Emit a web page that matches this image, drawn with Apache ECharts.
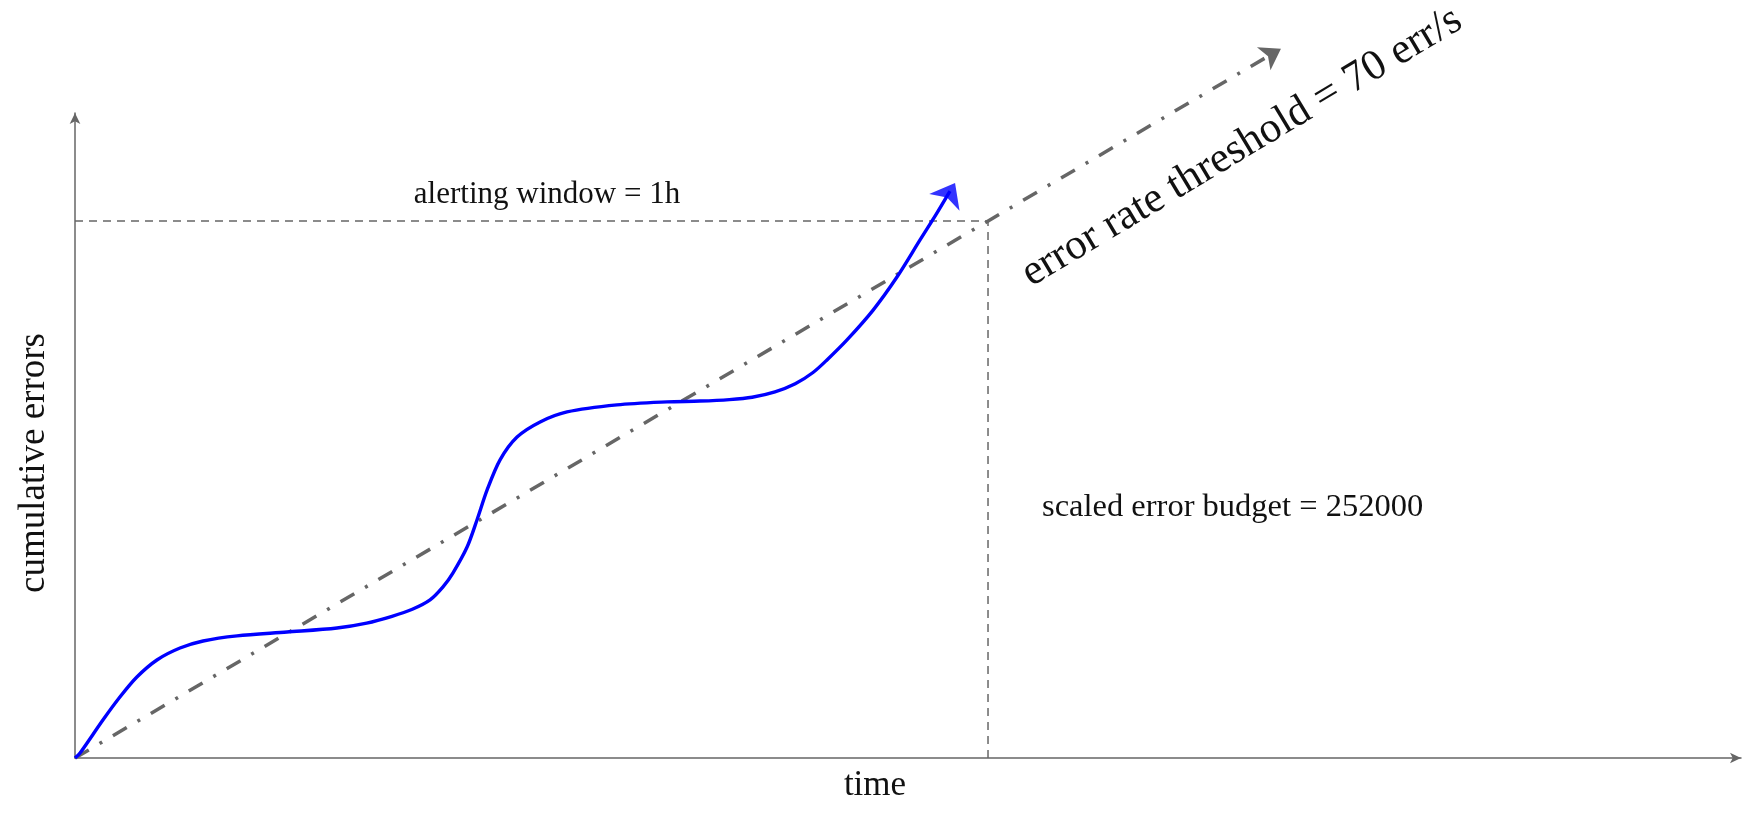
<!DOCTYPE html>
<html>
<head>
<meta charset="utf-8">
<script src="https://cdn.jsdelivr.net/npm/echarts@6/dist/echarts.min.js"></script>
<style>
  html, body { margin: 0; padding: 0; background: #fff; }
  #chart { width: 1747px; height: 828px; }
</style>
</head>
<body>
<div id="chart"></div>
<script>
// time in seconds, errors cumulative
const xExtent = [0, 6569]
const yExtent = [0, 302682]

const curvePoints = [
  [0, 0], [20, 2350], [110, 17800], [177, 28600], [244, 38000], [323, 46000],
  [414, 51600], [505, 54900], [639, 57300], [836, 59100], [1033, 61000],
  [1150, 63300], [1250, 66500], [1330, 69800], [1400, 74200], [1451, 80300],
  [1490, 86800], [1546, 99000], [1585, 111700], [1625, 125800], [1676, 139900],
  [1743, 150600], [1834, 157700], [1940, 162400], [2137, 165700], [2334, 167100],
  [2464, 167500], [2580, 168200], [2670, 169300], [2760, 171800], [2840, 175600],
  [2910, 180900], [2965, 186800], [3044, 196200], [3147, 210200],
  [3241, 225700], [3332, 243100], [3399, 255800], [3450, 266000]
]
const curveHead = [3470, 269800]

// threshold 70 err/s, alerting window 1h -> budget 252000
const thresholdLine = [[0, 0], [4755, 332850]]
const budgetBox = [[0, 252000], [3600, 252000], [3600, 0]]

const serif = "'Liberation Serif', 'DejaVu Serif', serif"
const ink = '#111'
const grey = '#666'

const chart = echarts.init(document.getElementById('chart'), null, { renderer: 'canvas' })

const axisBase = {
  type: 'value',
  axisLine: {
    show: true,
    onZero: false,
    symbol: ['none', 'arrow'],
    symbolSize: [8, 11],
    lineStyle: { color: grey, width: 1.5 }
  },
  axisTick: { show: false },
  axisLabel: { show: false },
  splitLine: { show: false }
}

chart.setOption({
  animation: false,
  backgroundColor: '#fff',
  grid: { left: 75, right: 6, top: 113, bottom: 70 },
  xAxis: { ...axisBase, min: xExtent[0], max: xExtent[1] },
  yAxis: { ...axisBase, min: yExtent[0], max: yExtent[1] },
  series: [
    {
      type: 'line',
      data: budgetBox,
      showSymbol: false,
      silent: true,
      lineStyle: { color: grey, width: 1.5, type: [8, 6] }
    },
    {
      type: 'lines',
      coordinateSystem: 'cartesian2d',
      clip: false,
      silent: true,
      data: [{ coords: thresholdLine }],
      symbol: ['none', 'arrow'],
      symbolSize: [24, 20],
      lineStyle: { color: grey, width: 3.5, opacity: 1, type: [16, 12.5, 3, 12.5] }
    },
    {
      type: 'line',
      data: curvePoints,
      smooth: 0.3,
      showSymbol: false,
      clip: false,
      silent: true,
      lineStyle: { color: '#0000ff', width: 3.4 }
    },
    {
      type: 'scatter',
      data: [curveHead],
      symbol: 'arrow',
      symbolSize: [26, 22],
      symbolRotate: -29,
      clip: false,
      silent: true,
      itemStyle: { color: '#0000ff' }
    }
  ],
  graphic: [
    {
      type: 'text', x: 547, y: 195,
      style: { text: 'alerting window = 1h', font: `31px ${serif}`, fill: ink, align: 'center', verticalAlign: 'middle' }
    },
    {
      type: 'text', x: 1042, y: 507,
      style: { text: 'scaled error budget = 252000', font: `32.5px ${serif}`, fill: ink, align: 'left', verticalAlign: 'middle' }
    },
    {
      type: 'text', x: 1242, y: 147, rotation: 31 * Math.PI / 180,
      style: { text: 'error rate threshold = 70 err/s', font: `43px ${serif}`, fill: ink, align: 'center', verticalAlign: 'middle' }
    },
    {
      type: 'text', x: 875, y: 786,
      style: { text: 'time', font: `35px ${serif}`, fill: ink, align: 'center', verticalAlign: 'middle' }
    },
    {
      type: 'text', x: 34, y: 463, rotation: Math.PI / 2,
      style: { text: 'cumulative errors', font: `37px ${serif}`, fill: ink, align: 'center', verticalAlign: 'middle' }
    }
  ]
})

window.addEventListener('resize', () => chart.resize())
</script>
</body>
</html>
